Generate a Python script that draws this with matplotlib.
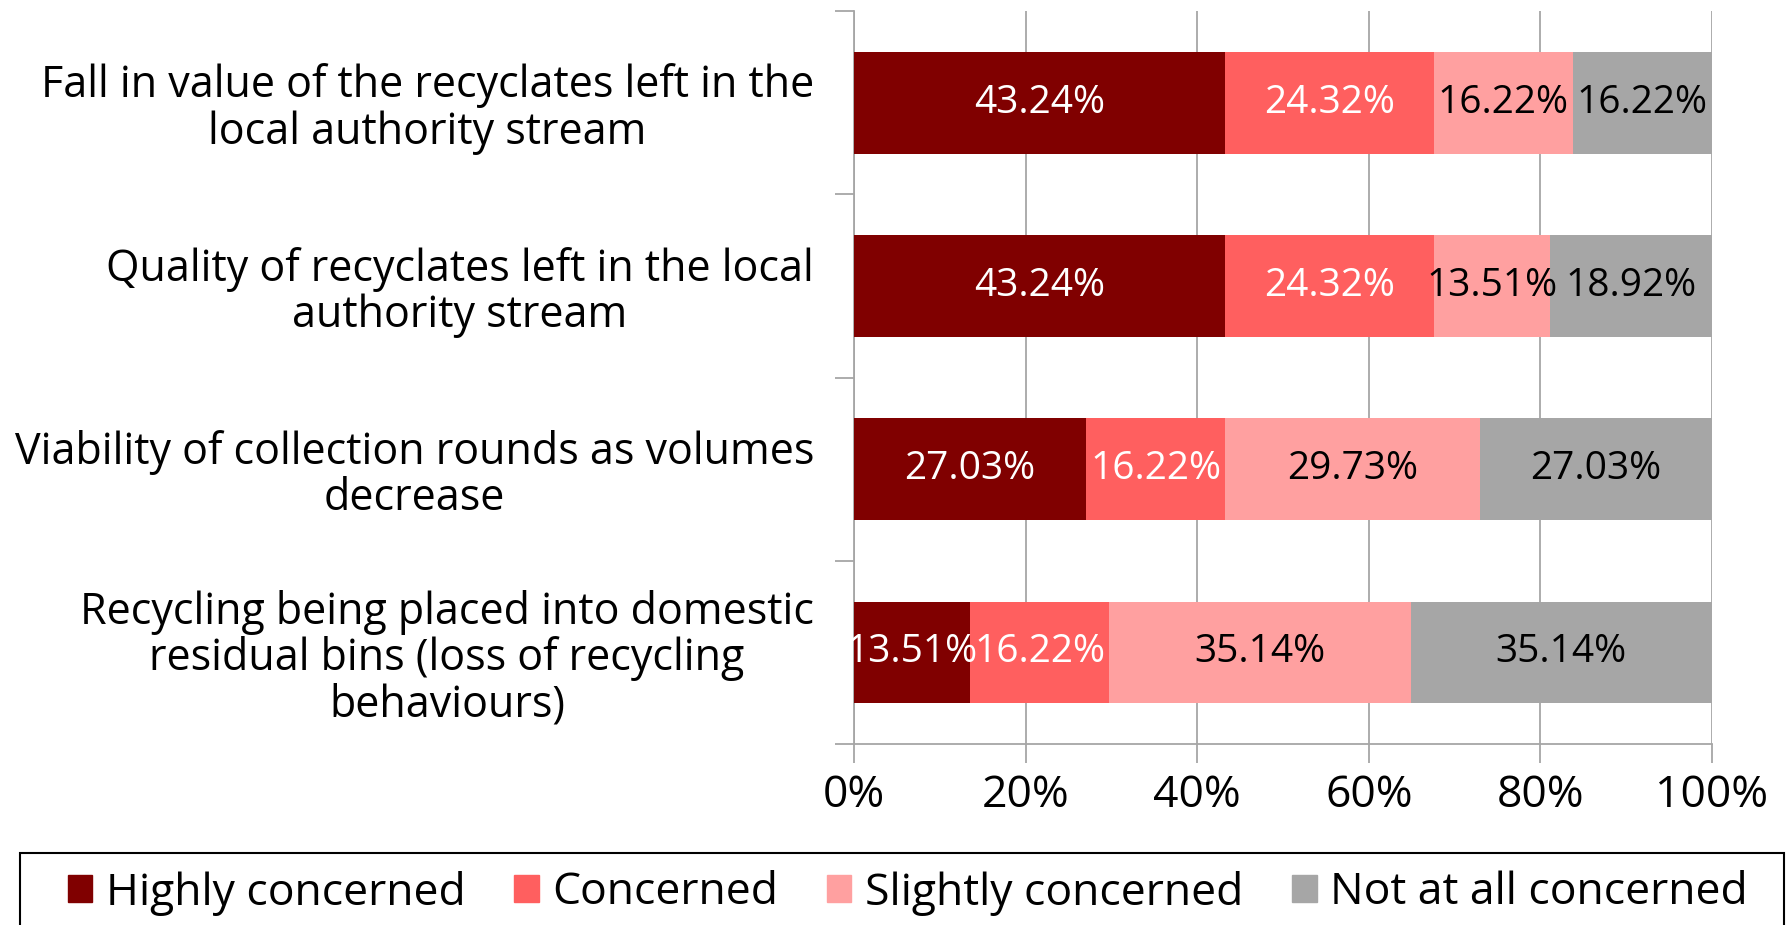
import numpy as np
import matplotlib.pyplot as plt
from matplotlib.patches import Patch, Rectangle

plt.rcParams['font.family'] = ['Open Sans', 'DejaVu Sans']

categories = ['Fall in value of the recyclates left in the\nlocal authority stream',
              'Quality of recyclates left in the local\nauthority stream',
              'Viability of collection rounds as volumes\ndecrease',
              'Recycling being placed into domestic\nresidual bins (loss of recycling\nbehaviours)']
series = ['Highly concerned', 'Concerned', 'Slightly concerned', 'Not at all concerned']
highly = [43.24, 43.24, 27.03, 13.51]
concerned = [24.32, 24.32, 16.22, 16.22]
slightly = [16.22, 13.51, 29.73, 35.14]
not_at_all = [16.22, 18.92, 27.03, 35.14]

colors = ['#800000', '#ff5f5f', '#ffa0a0', '#a6a6a6']
txtcol = ['white', 'white', 'black', 'black']
grey = '#a6a6a6'

vals = np.array([highly, concerned, slightly, not_at_all])
frac = vals / vals.sum(axis=0)

fig = plt.figure(figsize=(17.87, 9.25), dpi=100)
ax = fig.add_axes([0.478, 0.1957, 0.48, 0.7923])

y = np.arange(len(categories))
left = np.zeros(len(categories))
for i in range(len(series)):
    ax.barh(y, frac[i], left=left, height=0.555, color=colors[i], zorder=3)
    for j in range(len(categories)):
        ax.text(left[j] + frac[i][j] / 2, y[j], '%.2f%%' % vals[i][j],
                ha='center', va='center', color=txtcol[i], fontsize=28, zorder=4)
    left = left + frac[i]

ax.set_xlim(0, 1)
ax.set_ylim(3.5, -0.5)
ax.set_xticks(np.arange(0, 1.01, 0.2))
ax.set_xticklabels(['%d%%' % v for v in range(0, 101, 20)], fontsize=32)
ax.tick_params(axis='x', direction='out', length=14, width=1.3, color=grey, pad=7)
ax.set_yticks(y)
ax.set_yticklabels(categories, fontsize=31, multialignment='center', linespacing=1.05)
ax.tick_params(axis='y', which='major', length=0, pad=29)
ax.set_yticks(np.arange(-0.5, 3.6, 1), minor=True)
ax.tick_params(axis='y', which='minor', direction='out', length=14, width=1.3, color=grey)
ax.grid(axis='x', color=grey, lw=1.3, zorder=0)
for s in ['top', 'right']:
    ax.spines[s].set_visible(False)
for s in ['left', 'bottom']:
    ax.spines[s].set_color(grey)
    ax.spines[s].set_linewidth(1.3)

fig.patches.append(Rectangle((20 / 1787, -0.05), 1764 / 1787, 0.05 + 1 - 853 / 925,
                             transform=fig.transFigure, fill=False, ec='black', lw=1.5))
handles = [Patch(color=c) for c in colors]
fig.legend(handles, series, loc='center', bbox_to_anchor=(0.508, 1 - 893 / 925), ncol=4,
           frameon=False, fontsize=32, handlelength=0.55, handleheight=0.55,
           handletextpad=0.3, columnspacing=1.1)

fig.savefig('out.png', dpi=100)
